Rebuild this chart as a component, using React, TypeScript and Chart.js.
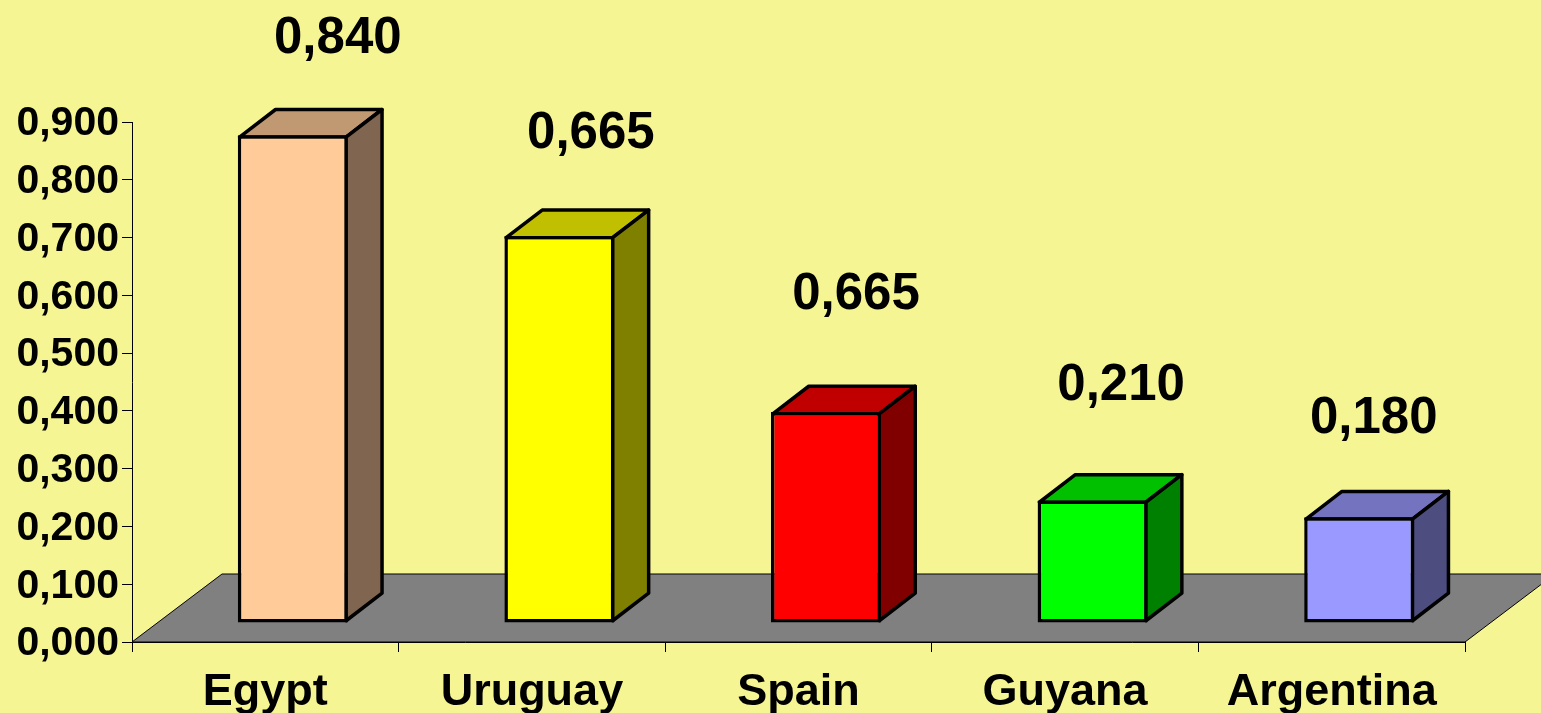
import React, { useEffect, useRef } from "react";
import { Chart, registerables } from "chart.js";

Chart.register(...registerables);

const categories = ["Egypt", "Uruguay", "Spain", "Guyana", "Argentina"];
const barValues = [0.844, 0.67, 0.365, 0.212, 0.183];
const printedLabels = ["0,840", "0,665", "0,665", "0,210", "0,180"];
const frontColors = ["#FFCC99", "#FFFF00", "#FF0000", "#00FF00", "#9999FF"];
const topColors = ["#C09973", "#C0C000", "#C00000", "#00C000", "#7373C0"];
const sideColors = ["#806650", "#808000", "#800000", "#008000", "#4D4D80"];
const labelShiftX = [72.5, 59, 57.5, 56, 42];
const labelShiftY = [-68.8, -73.9, -89.1, -86.5, -71.1];

const FONT = "'Liberation Sans', Arial, sans-serif";
const BG = "#F6F593";
const INK = "#000000";
const FRONT_DX = 27.5;
const FRONT_DY = -19;
const DEPTH_X = 36;
const DEPTH_Y = -27.6;
const FLOOR_X = 90;
const FLOOR_Y = -68;
const EDGE = 3.5;

const backdrop = {
  id: "backdrop",
  beforeDraw(chart: any) {
    const { ctx, width, height } = chart;
    ctx.save();
    ctx.fillStyle = BG;
    ctx.fillRect(0, 0, width, height);
    ctx.restore();
  },
  beforeDatasetsDraw(chart: any) {
    const { ctx, chartArea: a } = chart;
    ctx.save();
    ctx.beginPath();
    ctx.moveTo(a.left, a.bottom);
    ctx.lineTo(a.left + FLOOR_X, a.bottom + FLOOR_Y);
    ctx.lineTo(a.right + FLOOR_X, a.bottom + FLOOR_Y);
    ctx.lineTo(a.right, a.bottom);
    ctx.closePath();
    ctx.fillStyle = "#808080";
    ctx.fill();
    ctx.strokeStyle = INK;
    ctx.lineWidth = 1;
    ctx.stroke();
    ctx.restore();
  },
};

const extrude = {
  id: "extrude",
  beforeDatasetDraw(chart: any, args: any) {
    const { ctx } = chart;
    const meta = chart.getDatasetMeta(args.index);
    ctx.save();
    ctx.translate(FRONT_DX, FRONT_DY);
    ctx.lineWidth = EDGE;
    ctx.strokeStyle = INK;
    ctx.lineJoin = "round";
    meta.data.forEach((bar: any, i: number) => {
      const half = bar.width / 2 - EDGE / 2;
      const l = bar.x - half;
      const r = bar.x + half;
      const t = bar.y + EDGE / 2;
      const b = bar.base - EDGE / 2;
      ctx.beginPath();
      ctx.moveTo(l, t);
      ctx.lineTo(l + DEPTH_X, t + DEPTH_Y);
      ctx.lineTo(r + DEPTH_X, t + DEPTH_Y);
      ctx.lineTo(r, t);
      ctx.closePath();
      ctx.fillStyle = topColors[i];
      ctx.fill();
      ctx.stroke();
      ctx.beginPath();
      ctx.moveTo(r, t);
      ctx.lineTo(r + DEPTH_X, t + DEPTH_Y);
      ctx.lineTo(r + DEPTH_X, b + DEPTH_Y);
      ctx.lineTo(r, b);
      ctx.closePath();
      ctx.fillStyle = sideColors[i];
      ctx.fill();
      ctx.stroke();
    });
  },
  afterDatasetDraw(chart: any) {
    chart.ctx.restore();
  },
  afterDatasetsDraw(chart: any) {
    const { ctx } = chart;
    const meta = chart.getDatasetMeta(0);
    ctx.save();
    ctx.font = `bold 51px ${FONT}`;
    ctx.fillStyle = INK;
    ctx.textAlign = "center";
    ctx.textBaseline = "middle";
    meta.data.forEach((bar: any, i: number) => {
      const topY = bar.y + FRONT_DY + DEPTH_Y;
      ctx.fillText(printedLabels[i], bar.x + labelShiftX[i], topY + labelShiftY[i]);
    });
    ctx.restore();
  },
};

export default function App() {
  const ref = useRef<HTMLCanvasElement | null>(null);

  useEffect(() => {
    const canvas = ref.current;
    if (!canvas) return;
    const chart = new Chart(canvas, {
      type: "bar",
      data: {
        labels: categories,
        datasets: [
          {
            data: barValues,
            backgroundColor: frontColors,
            borderColor: INK,
            borderWidth: EDGE,
            borderSkipped: false,
            barPercentage: 0.4126,
            categoryPercentage: 1,
            clip: false,
          } as any,
        ],
      },
      options: {
        responsive: false,
        animation: false,
        layout: { padding: { top: 122, right: 76, left: 0, bottom: 0 } },
        plugins: { legend: { display: false }, title: { display: false }, tooltip: { enabled: false } },
        scales: {
          x: {
            offset: true,
            afterFit(scale: any) {
              scale.height = 71;
            },
            border: { color: INK, width: 1 },
            grid: { drawOnChartArea: false, drawTicks: true, tickLength: 10, color: INK, offset: true },
            ticks: { color: INK, font: { family: FONT, weight: "bold", size: 45 }, padding: 14, maxRotation: 0, autoSkip: false },
          },
          y: {
            min: 0,
            max: 0.9,
            afterFit(scale: any) {
              scale.width = 132;
            },
            border: { color: INK, width: 1 },
            grid: { drawOnChartArea: false, drawTicks: true, tickLength: 10, color: INK },
            ticks: {
              stepSize: 0.1,
              color: INK,
              padding: 3,
              labelOffset: 2,
              font: { family: FONT, weight: "bold", size: 41 },
              callback: (v: any) => Number(v).toFixed(3).replace(".", ","),
            },
          },
        },
      } as any,
      plugins: [backdrop, extrude],
    });
    return () => chart.destroy();
  }, []);

  return (
    <div style={{ position: "absolute", left: 0, top: 0, width: 1541, height: 713, overflow: "hidden", background: BG }}>
      <canvas ref={ref} width={1541} height={713} style={{ display: "block" }} />
    </div>
  );
}
